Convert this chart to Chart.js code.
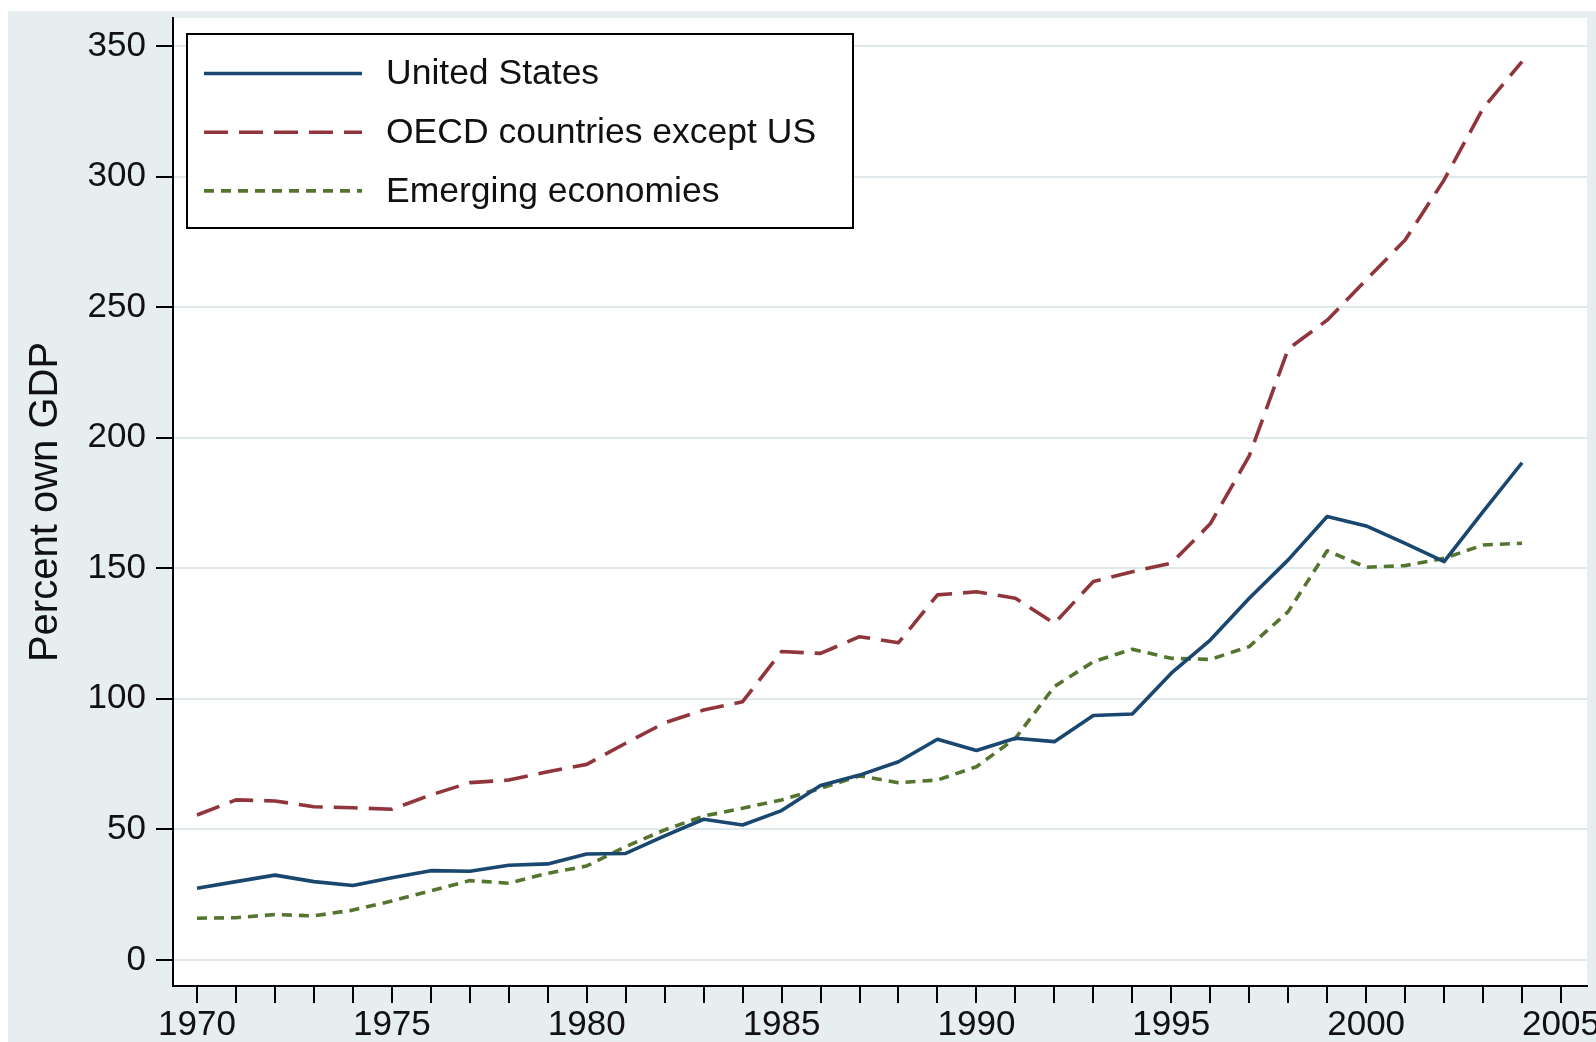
<!DOCTYPE html>
<html>
<head>
<meta charset="utf-8">
<title>Percent own GDP</title>
<script src="https://cdn.jsdelivr.net/npm/chart.js@4.4.1/dist/chart.umd.min.js"></script>
<style>
    html, body { margin: 0; padding: 0; background: #ffffff; }
    #chartWrap { width: 1596px; height: 1042px; }
</style>
</head>
<body>
<div id="chartWrap"><canvas id="lineChartGdp" width="1596" height="1042"></canvas></div>
<script>
// yearly values, percent of own GDP
const years = [
    1970, 1971, 1972, 1973, 1974, 1975, 1976, 1977, 1978, 1979,
    1980, 1981, 1982, 1983, 1984, 1985, 1986, 1987, 1988, 1989,
    1990, 1991, 1992, 1993, 1994, 1995, 1996, 1997, 1998, 1999,
    2000, 2001, 2002, 2003, 2004
];
const unitedStates = [
    27.5, 30, 32.5, 30, 28.5, 31.5, 34.2, 34, 36.3, 36.8,
    40.6, 40.8, 47.5, 53.9, 51.7, 57.2, 66.8, 70.8, 75.9, 84.5,
    80.2, 84.9, 83.6, 93.6, 94.2, 109.8, 122.5, 138.5, 153.2, 169.8,
    166.2, 159.5, 152.5, 171.7, 190.4
];
const oecdExceptUs = [
    55.5, 61.3, 60.9, 58.7, 58.3, 57.7, 63.2, 67.9, 68.9, 72.1,
    74.9, 83, 90.8, 95.7, 98.9, 118.1, 117.4, 123.8, 121.5, 139.8,
    141, 138.5, 128.9, 144.9, 148.7, 151.9, 167, 193, 234, 245,
    260.4, 275.7, 298.7, 326.1, 344
];
const emergingEconomies = [
    16, 16.2, 17.4, 16.9, 19.1, 22.6, 26.5, 30.4, 29.4, 33.2,
    36, 43.4, 49.8, 55.1, 58.1, 61.3, 65.7, 70.5, 67.9, 68.9,
    74, 84.9, 104.7, 114.2, 119, 115.5, 115.1, 120, 133.4, 156.7,
    150.4, 151, 153.8, 158.9, 159.6
];
const seriesLabels = ["United States", "OECD countries except US", "Emerging economies"];
const yTickValues = [0, 50, 100, 150, 200, 250, 300, 350];
const xLabelYears = [1970, 1975, 1980, 1985, 1990, 1995, 2000, 2005];

document.addEventListener("DOMContentLoaded", function () {
    const lineChartGdp = document.getElementById("lineChartGdp").getContext("2d");
    const fontFamily = "'Liberation Sans', Arial, Helvetica, sans-serif";
    Chart.defaults.font.family = fontFamily;

    // a tick mark for every year, labels only every fifth
    const xTickYears = [];
    for (let y = xLabelYears[0]; y <= xLabelYears[xLabelYears.length - 1]; y++) {
        xTickYears.push(y);
    }

    const toPoints = function (values) {
        return years.map(function (yr, i) {
            return { x: yr, y: values[i] };
        });
    };

    // grey-blue graph region with a white plot region
    const plotBackground = {
        id: "plotBackground",
        beforeDraw: function (chart) {
            const c = chart.ctx;
            const a = chart.chartArea;
            c.save();
            c.fillStyle = "#ffffff";
            c.fillRect(0, 0, chart.width, chart.height);
            c.fillStyle = "#e6eef0";
            c.fillRect(8, 11, chart.width - 8, chart.height - 11);
            c.fillStyle = "#ffffff";
            c.fillRect(a.left, a.top, a.right - a.left, a.bottom - a.top);
            c.restore();
        }
    };

    // framed legend in the upper left corner of the plot
    const boxedLegend = {
        id: "boxedLegend",
        afterDatasetsDraw: function (chart) {
            const c = chart.ctx;
            c.save();
            c.fillStyle = "#ffffff";
            c.fillRect(187, 34, 666, 194);
            c.lineWidth = 2;
            c.strokeStyle = "#000000";
            c.strokeRect(187, 34, 666, 194);
            c.font = "35.5px " + fontFamily;
            c.textBaseline = "middle";
            c.textAlign = "left";
            chart.data.datasets.forEach(function (ds, i) {
                const y = 73.5 + i * 58.7;
                c.strokeStyle = ds.borderColor;
                c.lineWidth = ds.borderWidth;
                c.lineCap = "butt";
                c.setLineDash(ds.borderDash || []);
                c.beginPath();
                c.moveTo(204, y);
                c.lineTo(362, y);
                c.stroke();
                c.setLineDash([]);
                c.fillStyle = "#111111";
                c.fillText(ds.label, 386, y + 1);
            });
            c.restore();
        }
    };

    const myLineChartGdp = new Chart(lineChartGdp, {
        type: "line",
        data: {
            datasets: [
                {
                    label: seriesLabels[0],
                    data: toPoints(unitedStates),
                    borderColor: "#1a476f",
                    borderWidth: 3.6,
                    borderDash: [],
                },
                {
                    label: seriesLabels[1],
                    data: toPoints(oecdExceptUs),
                    borderColor: "#90353b",
                    borderWidth: 3.6,
                    borderDash: [24, 11],
                },
                {
                    label: seriesLabels[2],
                    data: toPoints(emergingEconomies),
                    borderColor: "#55752f",
                    borderWidth: 3.6,
                    borderDash: [10, 7],
                },
            ],
        },
        options: {
            responsive: false,
            animation: false,
            elements: {
                point: { radius: 0 },
                line: { tension: 0, fill: false, borderCapStyle: "butt", borderJoinStyle: "round" },
            },
            layout: {
                padding: { left: 8, right: 9, top: 18, bottom: 0 },
            },
            plugins: {
                legend: { display: false },
                tooltip: { enabled: false },
            },
            scales: {
                x: {
                    type: "linear",
                    min: 1969.384,
                    max: 2005.667,
                    afterBuildTicks: function (scale) {
                        scale.ticks = xTickYears.map(function (v) { return { value: v }; });
                    },
                    afterFit: function (scale) {
                        scale.height = 56;
                        scale.paddingLeft = 0;
                        scale.paddingRight = 0;
                    },
                    grid: {
                        drawOnChartArea: false,
                        color: "#000000",
                        tickColor: "#000000",
                        tickLength: 17,
                        lineWidth: 2,
                    },
                    border: { color: "#000000", width: 2 },
                    ticks: {
                        autoSkip: false,
                        maxRotation: 0,
                        padding: 1,
                        color: "#111111",
                        font: { size: 35 },
                        callback: function (value) {
                            return xLabelYears.includes(value) ? String(value) : "";
                        },
                    },
                },
                y: {
                    min: -9.96,
                    max: 360.7,
                    afterBuildTicks: function (scale) {
                        scale.ticks = yTickValues.map(function (v) { return { value: v }; });
                    },
                    afterFit: function (scale) {
                        scale.width = 165;
                        scale.paddingTop = 0;
                        scale.paddingBottom = 0;
                    },
                    grid: {
                        color: "#dfe9ec",
                        tickColor: "#000000",
                        tickLength: 17,
                        lineWidth: 2,
                    },
                    border: { color: "#000000", width: 2 },
                    ticks: {
                        padding: 10,
                        color: "#111111",
                        font: { size: 35 },
                        callback: function (value) {
                            return String(value);
                        },
                    },
                    title: {
                        display: true,
                        text: "Percent own GDP",
                        color: "#111111",
                        font: { size: 40 },
                        padding: { top: 14, bottom: 0 },
                    },
                },
            },
        },
        plugins: [plotBackground, boxedLegend],
    });
});
</script>
</body>
</html>
